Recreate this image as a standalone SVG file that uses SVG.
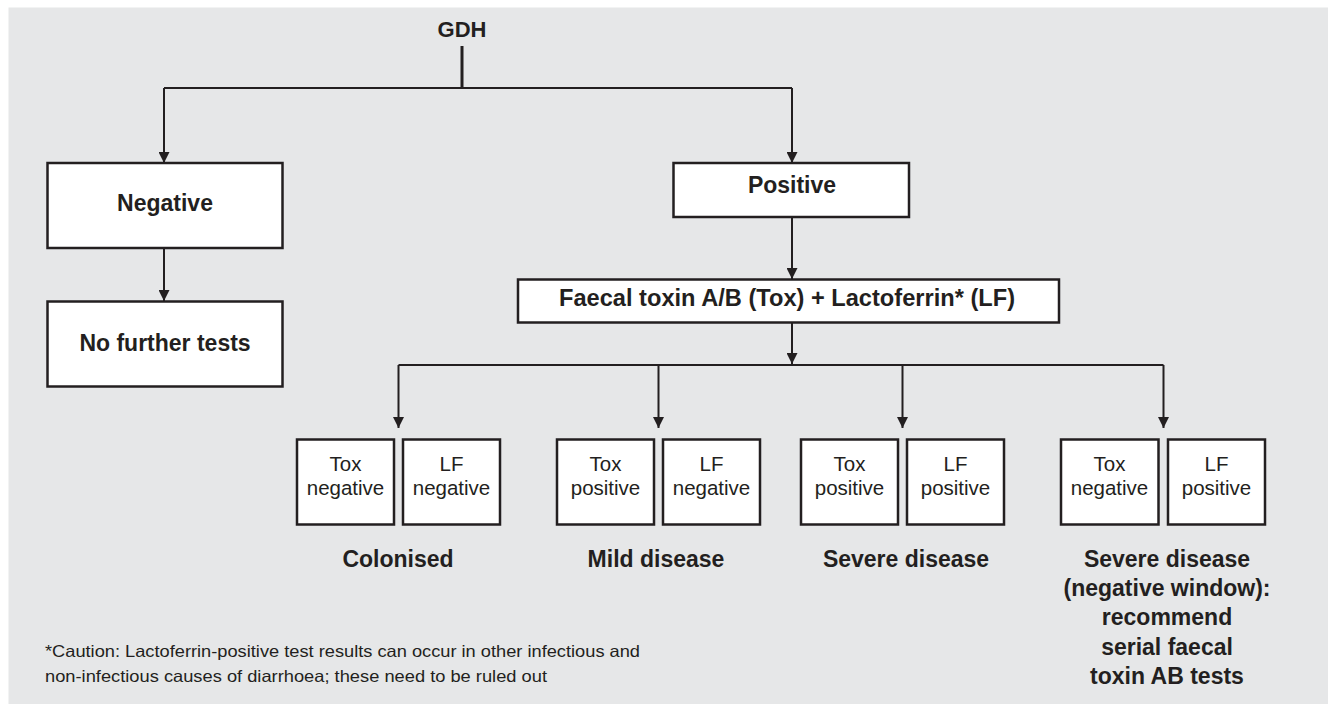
<svg xmlns="http://www.w3.org/2000/svg" width="1328" height="704" viewBox="0 0 1328 704">
<style>
.bg{fill:#e6e7e8}
.box{fill:#fff;stroke:#231f20;stroke-width:2.5}
.con{fill:none;stroke:#231f20;stroke-width:2}
.b{font-family:"Liberation Sans",Arial,sans-serif;font-weight:bold;font-size:23px;fill:#231f20;text-anchor:middle}
.s{font-family:"Liberation Sans",Arial,sans-serif;font-size:20.5px;fill:#231f20;text-anchor:middle}
.n{font-family:"Liberation Sans",Arial,sans-serif;font-size:16.5px;fill:#231f20}
</style>
<defs>
<marker id="arr" markerUnits="userSpaceOnUse" markerWidth="11" markerHeight="11" refX="11" refY="5.5" orient="auto">
<path d="M0,0 L11,5.5 L0,11 z" fill="#231f20"/>
</marker>
</defs>
<rect class="bg" x="8.5" y="7.5" width="1320" height="697"/>

<g id="connectors">
<path class="con" d="M462,46 V88" style="stroke-width:3"/>
<path class="con" d="M164,88 H792"/>
<path class="con" d="M164,88 V163" marker-end="url(#arr)"/>
<path class="con" d="M792,88 V163" marker-end="url(#arr)"/>
<path class="con" d="M164,248 V301" marker-end="url(#arr)"/>
<path class="con" d="M792,217 V279" marker-end="url(#arr)"/>
<path class="con" d="M792,323 V364" marker-end="url(#arr)"/>
<path class="con" d="M398.5,365 H1163.5"/>
<path class="con" d="M398.5,365 V428" marker-end="url(#arr)"/>
<path class="con" d="M658.5,365 V428" marker-end="url(#arr)"/>
<path class="con" d="M902.5,365 V428" marker-end="url(#arr)"/>
<path class="con" d="M1163.5,365 V428" marker-end="url(#arr)"/>
</g>

<g id="gdh"><text class="b" x="462" y="37" style="font-size:22px">GDH</text></g>

<g id="negative">
<rect class="box" x="47.5" y="163" width="235" height="85"/>
<text class="b" x="165" y="211">Negative</text>
</g>
<g id="no-further">
<rect class="box" x="47.5" y="301.5" width="235" height="85"/>
<text class="b" x="165" y="351">No further tests</text>
</g>
<g id="positive">
<rect class="box" x="673.5" y="163" width="235.5" height="54"/>
<text class="b" x="792" y="193">Positive</text>
</g>
<g id="faecal">
<rect class="box" x="518" y="279.5" width="541" height="43"/>
<text class="b" x="787" y="306" textLength="456" lengthAdjust="spacingAndGlyphs">Faecal toxin A/B (Tox) + Lactoferrin* (LF)</text>
</g>

<g id="pair1">
<rect class="box" x="297" y="439.5" width="97" height="85"/>
<text class="s" x="345.5" y="471">Tox</text><text class="s" x="345.5" y="494.5">negative</text>
<rect class="box" x="403" y="439.5" width="97" height="85"/>
<text class="s" x="451.5" y="471">LF</text><text class="s" x="451.5" y="494.5">negative</text>
<text class="b" x="398" y="567">Colonised</text>
</g>
<g id="pair2">
<rect class="box" x="557" y="439.5" width="97" height="85"/>
<text class="s" x="605.5" y="471">Tox</text><text class="s" x="605.5" y="494.5">positive</text>
<rect class="box" x="663" y="439.5" width="97" height="85"/>
<text class="s" x="711.5" y="471">LF</text><text class="s" x="711.5" y="494.5">negative</text>
<text class="b" x="656" y="567">Mild disease</text>
</g>
<g id="pair3">
<rect class="box" x="801" y="439.5" width="97" height="85"/>
<text class="s" x="849.5" y="471">Tox</text><text class="s" x="849.5" y="494.5">positive</text>
<rect class="box" x="907" y="439.5" width="97" height="85"/>
<text class="s" x="955.5" y="471">LF</text><text class="s" x="955.5" y="494.5">positive</text>
<text class="b" x="906" y="567">Severe disease</text>
</g>
<g id="pair4">
<rect class="box" x="1061" y="439.5" width="97.5" height="85"/>
<text class="s" x="1109.5" y="471">Tox</text><text class="s" x="1109.5" y="494.5">negative</text>
<rect class="box" x="1168" y="439.5" width="97" height="85"/>
<text class="s" x="1216.5" y="471">LF</text><text class="s" x="1216.5" y="494.5">positive</text>
<text class="b" x="1167" y="567">Severe disease</text>
<text class="b" x="1167" y="596">(negative window):</text>
<text class="b" x="1167" y="625">recommend</text>
<text class="b" x="1167" y="655">serial faecal</text>
<text class="b" x="1167" y="684">toxin AB tests</text>
</g>

<g id="footnote">
<text class="n" x="45" y="657" textLength="595" lengthAdjust="spacingAndGlyphs">*Caution: Lactoferrin-positive test results can occur in other infectious and</text>
<text class="n" x="45" y="682" textLength="502" lengthAdjust="spacingAndGlyphs">non-infectious causes of diarrhoea; these need to be ruled out</text>
</g>
</svg>
